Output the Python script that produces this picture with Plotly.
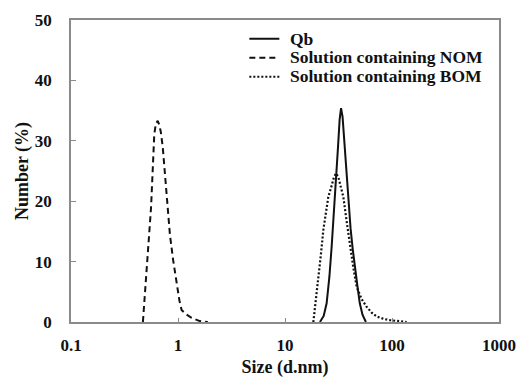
import plotly.graph_objects as go

# Qb (solid)
qb_x = [21.2, 23, 24.5, 26, 27.3, 28.7, 30, 31.3, 32.4, 33.4, 34.5, 35.7, 37, 38, 39, 41, 43, 44.9, 47.5, 50, 53, 57]
qb_y = [0, 1, 3.1, 7.5, 12.5, 18, 23.5, 29, 33.5, 35.4, 34, 30, 26, 23.5, 20.2, 15.5, 12, 9.7, 6, 3.1, 1.2, 0]

# Solution containing NOM (dashed)
nom_x = [0.47, 0.50, 0.53, 0.56, 0.58, 0.60, 0.62, 0.646, 0.67, 0.69, 0.72, 0.75, 0.78, 0.84, 0.90, 0.97, 1.03, 1.08, 1.18, 1.34, 1.6, 1.9]
nom_y = [0, 6, 13, 19, 25, 31, 32.8, 33.3, 32.6, 31.5, 29, 25, 20.2, 14.5, 10.3, 6.5, 3.6, 2.0, 1.3, 0.7, 0.15, 0]

# Solution containing BOM (dotted)
bom_x = [18.4, 19.3, 20.4, 21.6, 22.8, 24.1, 25.4, 27.3, 28.7, 30, 31.5, 33.2, 35.1, 37.8, 40.5, 43.5, 46.8, 52, 58, 65, 72, 84, 96, 115, 137]
bom_y = [0, 3, 7, 11, 15.2, 18, 20.7, 22.6, 24, 24.6, 24, 22.4, 20.7, 16.5, 12.5, 9, 5.8, 3.8, 2.5, 1.5, 0.9, 0.5, 0.3, 0.1, 0]

series_names = ["Qb", "Solution containing NOM", "Solution containing BOM"]

x_ticks = [0.1, 1, 10, 100, 1000]
x_tick_labels = ["0.1", "1", "10", "100", "1000"]
y_ticks = [0, 10, 20, 30, 40, 50]

FONT = "Liberation Serif"
INK = "#111111"
FRAME = "#8a8a8a"

fig = go.Figure()
styles = [dict(width=2, dash="solid"), dict(width=2, dash="6px,4px"), dict(width=2.2, dash="2px,2px")]
for xs, ys, st in zip([qb_x, nom_x, bom_x], [qb_y, nom_y, bom_y], styles):
    fig.add_trace(go.Scatter(x=xs, y=ys, mode="lines", name="",
                             line=dict(color=INK, **st)))

# legend labels as text (tight line spacing as in the original)
legend_text_x = 0.507
legend_text_y = [0.938, 0.8765, 0.815]
for name, ly in zip(series_names, legend_text_y):
    fig.add_annotation(x=legend_text_x, y=ly, xref="paper", yref="paper",
                       xanchor="left", yanchor="middle", showarrow=False,
                       text="<b>%s</b>" % name,
                       font=dict(family=FONT, size=17.5, color=INK))

fig.update_layout(
    width=520, height=378,
    margin=dict(l=71, r=21, t=20, b=56),
    paper_bgcolor="white", plot_bgcolor="white",
    font=dict(family=FONT, size=17, color=INK),
    showlegend=True,
    legend=dict(x=0.405, y=0.986, xanchor="left", yanchor="top",
                bgcolor="rgba(0,0,0,0)", borderwidth=0,
                font=dict(family=FONT, size=10, color=INK),
                tracegroupgap=0, itemwidth=30),
)
fig.update_xaxes(
    type="log", range=[-1, 3], automargin=False,
    tickvals=x_ticks, ticktext=["<b>%s</b>" % t for t in x_tick_labels],
    ticks="inside", ticklen=4, tickcolor=FRAME, tickwidth=1.2,
    showline=True, linecolor=FRAME, linewidth=1.5, mirror=True,
    showgrid=False, zeroline=False, ticklabelstandoff=7,
    tickfont=dict(family=FONT, size=17, color=INK),
    title=dict(text="<b>Size (d.nm)</b>", font=dict(family=FONT, size=18, color=INK), standoff=12),
)
fig.update_yaxes(
    range=[0, 50], automargin=False,
    tickvals=y_ticks, ticktext=["<b>%d</b>" % v for v in y_ticks],
    ticks="inside", ticklen=5, tickcolor=FRAME, tickwidth=1.2,
    showline=True, linecolor=FRAME, linewidth=1.5, mirror=True,
    showgrid=False, zeroline=False, ticklabelstandoff=14,
    tickfont=dict(family=FONT, size=17, color=INK),
    title=dict(text="<b>Number (%)</b>", font=dict(family=FONT, size=18, color=INK), standoff=2),
)

fig.write_html("out.html", config={"displayModeBar": False},
               post_script="document.body.style.margin='0px';")
